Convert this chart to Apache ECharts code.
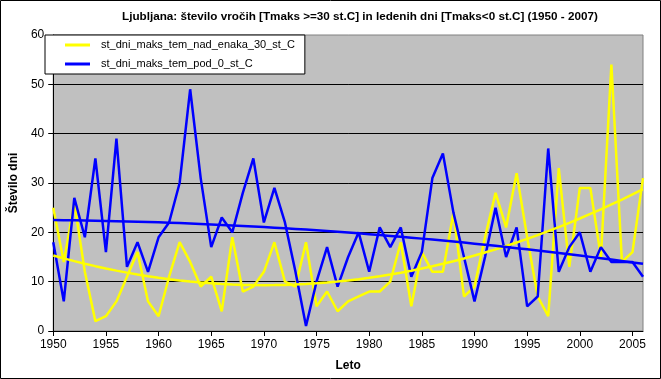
<!DOCTYPE html>
<html>
<head>
<meta charset="utf-8">
<script src="https://cdn.jsdelivr.net/npm/echarts@6/dist/echarts.min.js"></script>
<style>
html,body{margin:0;padding:0;background:#fff;}
#c{width:661px;height:379px;}
</style>
</head>
<body>
<div id="c"></div>
<script>
// Years (category axis)
const years = [];
for (let y = 1950; y <= 2006; y++) years.push(String(y));

// Number of hot days (Tmax >= 30 °C)
const hotDays = [25,14,26,12,2,3,6,11,16,6,
                 3,11,18,14,9,11,4,19,8,9,
                 12,18,10,9,18,5,8,4,6,7,
                 8,8,10,18,5,16,12,12,24,7,
                 9,19,28,21,32,19,7,3,33,13,
                 29,29,15,54,14,16,31];
// Number of ice days (Tmax < 0 °C)
const iceDays = [18,6,27,19,35,16,39,13,18,12,
                 19,22,30,49,31,17,23,20,28,35,
                 22,29,22,12,1,10,17,9,15,20,
                 12,21,17,21,11,16,31,36,24,15,
                 6,15,25,15,21,5,7,37,12,17,
                 20,12,17,14,14,14,11];

const nameHot = 'st_dni_maks_tem_nad_enaka_30_st_C';
const nameIce = 'st_dni_maks_tem_pod_0_st_C';

// Excel-style polynomial (order 2) trendlines, least squares
function quadFit(ys){
  let S=[0,0,0,0,0], T=[0,0,0];
  ys.forEach((y,i)=>{const x=i+1; for(let k=0;k<5;k++) S[k]+=Math.pow(x,k); for(let k=0;k<3;k++) T[k]+=y*Math.pow(x,k);});
  const M=[[S[0],S[1],S[2],T[0]],[S[1],S[2],S[3],T[1]],[S[2],S[3],S[4],T[2]]];
  for(let c=0;c<3;c++){ for(let r=c+1;r<3;r++){ const f=M[r][c]/M[c][c]; for(let k=c;k<4;k++) M[r][k]-=f*M[c][k]; } }
  const s=[0,0,0];
  for(let r=2;r>=0;r--){ let v=M[r][3]; for(let k=r+1;k<3;k++) v-=M[r][k]*s[k]; s[r]=v/M[r][r]; }
  return ys.map((_,i)=>{const x=i+1; return s[0]+s[1]*x+s[2]*x*x;});
}
const hotTrend = quadFit(hotDays);
const iceTrend = quadFit(iceDays);

const FONT = 'Liberation Sans, Arial, sans-serif';
const chart = echarts.init(document.getElementById('c'), null, {renderer:'canvas'});
chart.setOption({
  backgroundColor:'#ffffff',
  animation:false,
  title:{
    text:'Ljubljana: število vročih [Tmaks >=30 st.C] in ledenih dni [Tmaks<0 st.C] (1950 - 2007)',
    left:122, top:11, padding:0,
    textStyle:{fontFamily:FONT, fontSize:11.7, fontWeight:'bold', color:'#000'}
  },
  graphic:[{type:'rect', shape:{x:0.5,y:0.5,width:660,height:378}, style:{fill:'none', stroke:'#000', lineWidth:1}, z:100}],
  legend:{
    data:[nameHot, nameIce],
    orient:'vertical',
    left:45, top:35,
    backgroundColor:'#ffffff',
    borderColor:'#000', borderWidth:1,
    padding:[3,10,3,20],
    itemGap:5,
    itemWidth:25, itemHeight:3,
    icon:'rect',
    textStyle:{fontFamily:FONT, fontSize:11, color:'#000', lineHeight:14, padding:[0,0,0,6]},
    z:10
  },
  grid:{left:45.7, right:18, top:35, bottom:48, show:true, backgroundColor:'#C0C0C0', borderColor:'#808080', borderWidth:1},
  xAxis:{
    type:'category', data:years, boundaryGap:false,
    name:'Leto', nameLocation:'middle', nameGap:29,
    nameTextStyle:{fontFamily:FONT, fontSize:12, fontWeight:'bold', color:'#000'},
    axisLine:{lineStyle:{color:'#000', width:1}},
    axisTick:{interval:4, length:5, lineStyle:{color:'#000'}},
    axisLabel:{interval:4, fontFamily:FONT, fontSize:12, color:'#000', margin:8},
    splitLine:{show:false}
  },
  yAxis:{
    type:'value', min:0, max:60, interval:10,
    name:'Število dni', nameLocation:'middle', nameGap:28, nameRotate:90,
    nameTextStyle:{fontFamily:FONT, fontSize:12, fontWeight:'bold', color:'#000'},
    axisLine:{show:true, lineStyle:{color:'#000', width:1}},
    axisTick:{show:true, length:5, lineStyle:{color:'#000'}},
    axisLabel:{fontFamily:FONT, fontSize:12, color:'#000', margin:9},
    splitLine:{show:true, showMaxLine:false, lineStyle:{color:'#000', width:1}}
  },
  series:[
    {name:nameHot, type:'line', data:hotDays, symbol:'none', lineStyle:{color:'#FFFF00', width:2.5}, itemStyle:{color:'#FFFF00'}},
    {name:nameIce, type:'line', data:iceDays, symbol:'none', lineStyle:{color:'#0000FF', width:2.5}, itemStyle:{color:'#0000FF'}},
    {name:'trend_hot', type:'line', data:hotTrend, symbol:'none', lineStyle:{color:'#FFFF00', width:2.5}, silent:true},
    {name:'trend_ice', type:'line', data:iceTrend, symbol:'none', lineStyle:{color:'#0000FF', width:2.5}, silent:true}
  ]
});
</script>
</body>
</html>
